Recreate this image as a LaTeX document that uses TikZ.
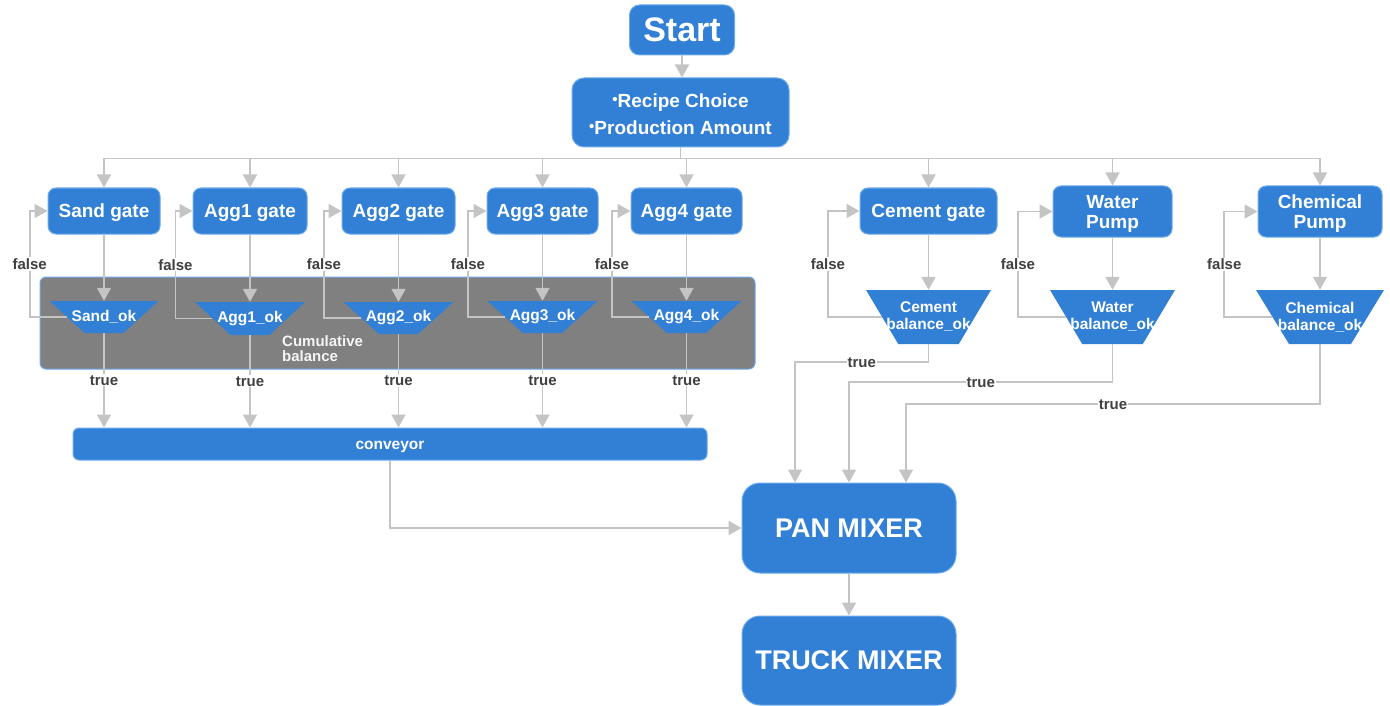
\documentclass[tikz,border=0pt]{standalone}
\usepackage{fontspec}
\setmainfont{Liberation Sans}
\usetikzlibrary{shapes.geometric,arrows.meta,calc}
\definecolor{nodeblue}{RGB}{49,128,214}
\definecolor{nodeedge}{RGB}{110,170,235}
\definecolor{linegray}{RGB}{196,196,196}
\definecolor{lblgray}{RGB}{64,64,64}
\definecolor{boxgray}{RGB}{128,128,128}
\newcommand\mybul{{\fontsize{15}{15}\selectfont\raisebox{3pt}{\textbullet}}}
\tikzset{
 blk/.style={draw=nodeedge, line width=1pt, fill=nodeblue, rounded corners=8pt, text=white,
   font=\fontsize{19}{20}\selectfont\bfseries, align=center, inner sep=0pt},
 gate/.style={blk, text height=14pt, text depth=0pt},
 gatetwo/.style={blk, text height=33pt, text depth=0pt},
 trap/.style={trapezium, shape border rotate=180, trapezium stretches=true, fill=nodeblue, draw=none, inner sep=2pt},
 traptext/.style={text=white, font=\fontsize{15.5}{17}\selectfont\bfseries, align=center, inner sep=0pt},
 arr/.style={draw=linegray, line width=1.8pt, -{Triangle[length=13pt,width=14pt]}},
 lbl/.style={fill=white, text=lblgray, font=\fontsize{15}{15}\selectfont\bfseries, inner sep=1pt},
}
\begin{document}
\begin{tikzpicture}[x=1pt,y=-1pt]
\path[use as bounding box] (0,0) rectangle (1390,706);
% cumulative balance box
\node[draw=nodeedge, line width=1pt, fill=boxgray, rounded corners=6pt, minimum width=715pt, minimum height=92pt, inner sep=0pt] (cum) at (397.5,323) {};
\node[anchor=north west, text=white!92!gray, align=left, inner sep=0pt, font=\fontsize{15}{15.5}\selectfont\bfseries] (cumtxt) at (282,335) {Cumulative\\balance};
% top
\node[blk, font=\fontsize{34}{34}\selectfont\bfseries, minimum width=105pt, minimum height=50pt, rounded corners=10pt] (start) at (682,30) {Start};
\node[blk, font=\fontsize{19}{27}\selectfont\bfseries, text height=44pt, text depth=0pt, minimum width=217pt, minimum height=69pt, rounded corners=12pt] (rec) at (680.5,112.5) {\mybul Recipe Choice\\\mybul Production Amount};
% gates
\node[gate, minimum width=112pt, minimum height=46pt] (sand) at (104,211) {Sand gate};
\node[gate, minimum width=114pt, minimum height=46pt] (agg1) at (250,211) {Agg1 gate};
\node[gate, minimum width=113pt, minimum height=46pt] (agg2) at (398.5,211) {Agg2 gate};
\node[gate, minimum width=111pt, minimum height=46pt] (agg3) at (542.5,211) {Agg3 gate};
\node[gate, minimum width=111pt, minimum height=46pt] (agg4) at (686.5,211) {Agg4 gate};
\node[gate, minimum width=137pt, minimum height=46pt] (cem) at (928.5,211) {Cement gate};
\node[gatetwo, minimum width=119pt, minimum height=51pt] (wat) at (1112.5,211.5) {Water\\Pump};
\node[gatetwo, minimum width=124pt, minimum height=51pt] (chem) at (1320,211.5) {Chemical\\Pump};
% balances
\node[trap, minimum width=109pt, minimum height=32pt, trapezium angle=48] (sok) at (104,317) {};
\node[trap, minimum width=110pt, minimum height=33pt, trapezium angle=48] (a1ok) at (250,318.5) {};
\node[trap, minimum width=110pt, minimum height=32pt, trapezium angle=48] (a2ok) at (398.5,318) {};
\node[trap, minimum width=110pt, minimum height=32pt, trapezium angle=48] (a3ok) at (542.5,317) {};
\node[trap, minimum width=110pt, minimum height=32pt, trapezium angle=48] (a4ok) at (686.5,317) {};
\node[trap, minimum width=125pt, minimum height=54pt, trapezium angle=62] (cok) at (928.5,317) {};
\node[trap, minimum width=125pt, minimum height=54pt, trapezium angle=62] (wok) at (1112.5,317) {};
\node[trap, minimum width=128pt, minimum height=54pt, trapezium angle=62] (chok) at (1320,317) {};
\node[traptext] (soktxt) at (sok) {Sand\_ok};
\node[traptext] (a1oktxt) at (a1ok) {Agg1\_ok};
\node[traptext] (a2oktxt) at (a2ok) {Agg2\_ok};
\node[traptext] (a3oktxt) at (a3ok) {Agg3\_ok};
\node[traptext] (a4oktxt) at (a4ok) {Agg4\_ok};
\node[traptext] (coktxt) at (cok) {Cement\\balance\_ok};
\node[traptext] (woktxt) at (wok) {Water\\balance\_ok};
\node[traptext] (choktxt) at (chok) {Chemical\\balance\_ok};
% conveyor and mixers
\node[blk, font=\fontsize{15.5}{16}\selectfont\bfseries, text height=11pt, text depth=0pt, minimum width=634pt, minimum height=32pt, rounded corners=6pt] (conv) at (390,444) {conveyor};
\node[blk, font=\fontsize{27}{28}\selectfont\bfseries, minimum width=214pt, minimum height=90pt, rounded corners=18pt] (pan) at (849,528) {PAN MIXER};
\node[blk, font=\fontsize{27}{28}\selectfont\bfseries, minimum width=214pt, minimum height=89pt, rounded corners=18pt] (truck) at (849,660.5) {TRUCK MIXER};
% edges
\draw[arr] (start.south) -- (start.south |- rec.north);
\foreach \g in {sand,agg1,agg2,agg3,agg4,cem,wat,chem}
  \draw[arr] (rec.south) -- ++(0,11) -| (\g.north);
\foreach \g/\t in {sand/sok,agg1/a1ok,agg2/a2ok,agg3/a3ok,agg4/a4ok,cem/cok,wat/wok,chem/chok}
  \draw[arr] (\g.south) -- (\g.south |- \t.north);
\foreach \g/\t in {sand/sok,agg1/a1ok,agg2/a2ok,agg3/a3ok,agg4/a4ok}{
  \draw[arr] (\t.west) -- ++(-37,0) |- node[lbl,pos=0.25]{false} (\g.west);
  \draw[arr] (\t.south) -- node[lbl]{true} (\t.south |- conv.north);
}
\draw[arr] (cok.west) -- ++(-54,0) |- node[lbl,pos=0.25]{false} (cem.west);
\draw[arr] (wok.west) -- ++(-48,0) |- node[lbl,pos=0.25]{false} (wat.west);
\draw[arr] (chok.west) -- ++(-48,0) |- node[lbl,pos=0.25]{false} (chem.west);
\draw[arr] (cok.south) -- ++(0,18) -| node[lbl,pos=0.25]{true} ($(pan.north)+(-54,0)$);
\draw[arr] (wok.south) -- ++(0,38) -| node[lbl,pos=0.25]{true} (pan.north);
\draw[arr] (chok.south) -- ++(0,60) -| node[lbl,pos=0.25]{true} ($(pan.north)+(57,0)$);
\draw[arr] (conv.south) |- (pan.west);
\draw[arr] (pan.south) -- (truck.north);
\end{tikzpicture}
\end{document}
